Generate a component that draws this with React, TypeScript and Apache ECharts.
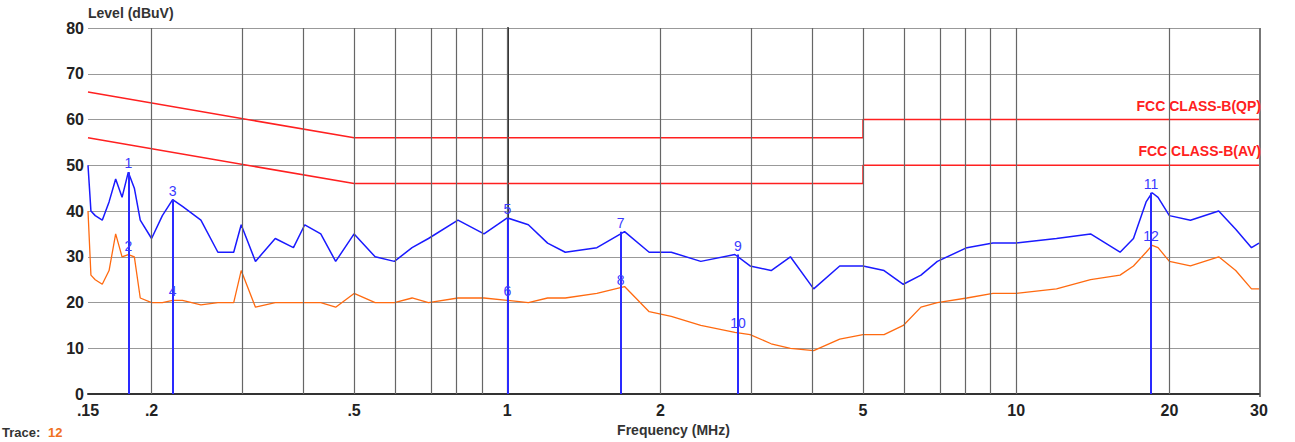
import * as echarts from "echarts";
import { useEffect, useRef } from "react";

const freqs = [0.15, 0.152, 0.155, 0.16, 0.165, 0.17, 0.175, 0.18, 0.185, 0.19, 0.2, 0.21, 0.22, 0.23, 0.25, 0.27, 0.29, 0.3, 0.32, 0.35, 0.38, 0.4, 0.43, 0.46, 0.5, 0.55, 0.6, 0.65, 0.7, 0.8, 0.9, 1.0, 1.1, 1.2, 1.3, 1.5, 1.7, 1.9, 2.1, 2.4, 2.8, 3.0, 3.3, 3.6, 4.0, 4.5, 5, 5.5, 6, 6.5, 7, 8, 9, 10, 12, 14, 16, 17, 18, 18.5, 19, 20, 22, 25, 27, 29, 30];
const qp = [50, 40, 39, 38, 42, 47, 43, 48.5, 45, 38, 34, 39, 42.5, 41, 38, 31, 31, 37, 29, 34, 32, 37, 35, 29, 35, 30, 29, 32, 34, 38, 35, 38.5, 37, 33, 31, 32, 35.5, 31, 31, 29, 30.5, 28, 27, 30, 23, 28, 28, 27, 24, 26, 29, 32, 33, 33, 34, 35, 31, 34, 42, 44, 43, 39, 38, 40, 36, 32, 33];
const av = [40, 26, 25, 24, 27, 35, 30, 30.5, 30, 21, 20, 20, 20.5, 20.5, 19.5, 20, 20, 27, 19, 20, 20, 20, 20, 19, 22, 20, 20, 21, 20, 21, 21, 20.5, 20, 21, 21, 22, 23.5, 18, 17, 15, 13.5, 13, 11, 10, 9.5, 12, 13, 13, 15, 19, 20, 21, 22, 22, 23, 25, 26, 28, 31, 32.5, 32, 29, 28, 30, 27, 23, 23];

const qpLimit = [[0.15, 66], [0.5, 56], [5, 56], [5, 60], [30, 60]];
const avLimit = [[0.15, 56], [0.5, 46], [5, 46], [5, 50], [30, 50]];

const markerFreqs = [0.18, 0.18, 0.22, 0.22, 1.0, 1.0, 1.67, 1.67, 2.84, 2.84, 18.4, 18.4];
const markerLevels = [48.5, 30.5, 42.5, 20.5, 38.5, 20.5, 35.5, 23, 30.5, 13.5, 44, 32.5];

const gridFreqs = [0.2, 0.3, 0.4, 0.5, 0.6, 0.7, 0.8, 0.9, 1, 2, 3, 4, 5, 6, 7, 8, 9, 10, 20];
const tickFreqs = [0.15, 0.2, 0.5, 1, 2, 5, 10, 20, 30];
const tickLabels: Record<string, string> = { "0.15": ".15", "0.2": ".2", "0.5": ".5" };

const lg = (f: number) => Math.log10(f);

export default function App() {
  const ref = useRef<HTMLDivElement | null>(null);

  useEffect(() => {
    document.body.style.margin = "0";
    if (!ref.current) return;
    const chart = echarts.init(ref.current, null, { renderer: "svg" });
    const font = "Liberation Sans, Arial, sans-serif";
    chart.setOption({
      animation: false,
      grid: { left: 88, right: 36, top: 28, bottom: 45 },
      xAxis: {
        type: "value",
        min: lg(0.15),
        max: lg(30),
        splitLine: { show: false },
        axisLine: { lineStyle: { color: "#333", width: 2 } },
        axisTick: { show: false },
        axisLabel: {
          customValues: tickFreqs.map(lg),
          fontFamily: font,
          fontWeight: "bold",
          fontSize: 16,
          color: "#222",
          formatter: (v: number) => {
            const f = Number(Math.pow(10, v).toPrecision(2));
            return tickLabels[String(f)] ?? String(f);
          },
        },
        name: "Frequency (MHz)",
        nameLocation: "middle",
        nameGap: 24,
        nameTextStyle: { fontFamily: font, fontWeight: "bold", fontSize: 14, color: "#333" },
      },
      yAxis: {
        type: "value",
        min: 0,
        max: 80,
        interval: 10,
        axisLine: { show: true, lineStyle: { color: "#333", width: 2 } },
        axisTick: { show: false },
        splitLine: { lineStyle: { color: "#999", width: 1 } },
        axisLabel: { fontFamily: font, fontWeight: "bold", fontSize: 16, color: "#222", margin: 4 },
      },
      graphic: [
        { type: "text", left: 88, top: 6, style: { text: "Level (dBuV)", font: `bold 14px ${font}`, fill: "#333" } },
        { type: "text", left: 2, top: 426, style: { text: "Trace:", font: `bold 13px ${font}`, fill: "#333" } },
        { type: "text", left: 48, top: 426, style: { text: "12", font: `bold 13px ${font}`, fill: "#f07020" } },
        { type: "rect", right: 34, top: 28, shape: { width: 2, height: 369 }, style: { fill: "#777" } },
      ],
      series: [
        {
          type: "line",
          data: [],
          silent: true,
          markLine: {
            symbol: "none",
            silent: true,
            label: { show: false },
            lineStyle: { color: "#666", type: "solid", width: 1.2 },
            data: gridFreqs.map((f) => ({ xAxis: lg(f) })),
          },
        },
        {
          type: "line",
          symbol: "none",
          data: avLimit.map(([f, v]) => [lg(f), v]),
          lineStyle: { color: "#ff2020", width: 1.5 },
          endLabel: { show: true, formatter: "FCC CLASS-B(AV)", align: "right", offset: [-6, -14], color: "#ff2020", fontFamily: font, fontWeight: "bold", fontSize: 14 },
        },
        {
          type: "line",
          symbol: "none",
          data: qpLimit.map(([f, v]) => [lg(f), v]),
          lineStyle: { color: "#ff2020", width: 1.5 },
          endLabel: { show: true, formatter: "FCC CLASS-B(QP)", align: "right", offset: [-6, -14], color: "#ff2020", fontFamily: font, fontWeight: "bold", fontSize: 14 },
        },
        {
          type: "line",
          symbol: "none",
          data: freqs.map((f, i) => [lg(f), av[i]]),
          lineStyle: { color: "#ff6a10", width: 1.3 },
        },
        {
          type: "line",
          symbol: "none",
          data: freqs.map((f, i) => [lg(f), qp[i]]),
          lineStyle: { color: "#1a1aff", width: 1.5 },
          markLine: {
            symbol: "none",
            silent: true,
            lineStyle: { color: "#2a2aff", type: "solid", width: 2 },
            label: {
              show: true,
              position: "end",
              color: "#3a3aff",
              fontFamily: font,
              fontSize: 14,
              distance: 2,
            },
            data: markerFreqs.map((f, i) => [
              { coord: [lg(f), 0] },
              { coord: [lg(f), markerLevels[i]], label: { formatter: String(i + 1) } },
            ]),
          },
        },
      ],
    });
    return () => chart.dispose();
  }, []);

  return <div ref={ref} style={{ width: 1295, height: 442 }} />;
}
